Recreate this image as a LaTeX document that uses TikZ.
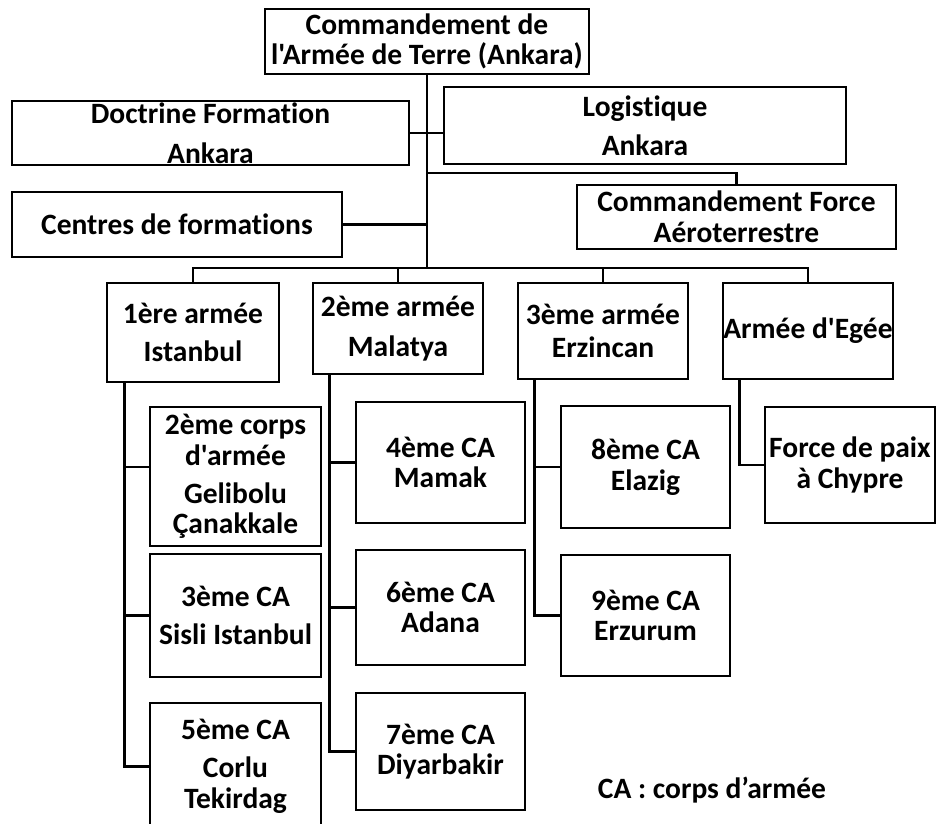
\documentclass[tikz,border=0pt]{standalone}
\usepackage{fontspec}
\newfontfamily\orgfont{Carlito}[Ligatures=NoCommon]
\usepackage{tikz}

\begin{document}
\begin{tikzpicture}[x=0.02cm,y=-0.02cm,
  box/.style={draw=black,line width=1.5pt,inner sep=0pt,align=center,
    font=\orgfont\bfseries\fontsize{16.8}{17.5}\selectfont},
  link/.style={draw=black,line width=1.5pt}]

\useasboundingbox (0,0) rectangle (936,824);
\clip (0,0) rectangle (936,824);

% top of the chart:
\node[box,minimum width=6.48cm,minimum height=1.30cm] (cat) at (427,41.5) {Commandement de\\l'Armée de Terre (Ankara)};
\node[box,minimum width=7.94cm,minimum height=1.28cm] (doc) at (210.5,133) {Doctrine Formation\\[5pt]Ankara};
\node[box,minimum width=8.04cm,minimum height=1.54cm] (log) at (645,125.5) {Logistique\\[4.5pt]Ankara};
\node[box,minimum width=6.38cm,minimum height=1.28cm] (cfa) at (736.5,217) {Commandement Force\\Aéroterrestre};
\node[box,minimum width=6.60cm,minimum height=1.30cm] (cen) at (177,224.5) {Centres de formations};

% armies:
\node[box,minimum width=3.44cm,minimum height=1.98cm] (a1) at (193,332.5) {1ère armée\\[4pt]Istanbul};
\node[box,minimum width=3.40cm,minimum height=1.82cm] (a2) at (398,328.5) {2ème armée\\[5pt]Malatya};
\node[box,minimum width=3.40cm,minimum height=1.92cm] (a3) at (603,331) {3ème armée\\[1pt]Erzincan};
\node[box,minimum width=3.40cm,minimum height=1.92cm] (a4) at (808,331) {Armée d'Egée};

% corps:
\node[box,minimum width=3.42cm,minimum height=2.78cm] (c2) at (235.5,476.5) {2ème corps\\d'armée\\[4pt]Gelibolu\\Çanakkale};
\node[box,minimum width=3.42cm,minimum height=2.46cm] (c3) at (235.5,615.5) {3ème CA\\[4pt]Sisli Istanbul};
\node[box,minimum width=3.42cm,minimum height=2.54cm] (c5) at (235.5,766.5) {5ème CA\\[4pt]Corlu\\Tekirdag};
\node[box,minimum width=3.38cm,minimum height=2.42cm] (c4) at (440.5,462.5) {4ème CA\\Mamak};
\node[box,minimum width=3.38cm,minimum height=2.30cm] (c6) at (440.5,607.5) {6ème CA\\Adana};
\node[box,minimum width=3.38cm,minimum height=2.34cm] (c7) at (440.5,751.5) {7ème CA\\Diyarbakir};
\node[box,minimum width=3.38cm,minimum height=2.44cm] (c8) at (645.5,467) {8ème CA\\Elazig};
\node[box,minimum width=3.38cm,minimum height=2.42cm] (c9) at (645.5,615.5) {9ème CA\\Erzurum};
\node[box,minimum width=3.40cm,minimum height=2.32cm] (fpc) at (850,465) {Force de paix\\à Chypre};
\node[font=\orgfont\bfseries\fontsize{16.8}{17.5}\selectfont] (leg) at (712,790) {CA : corps d’armée};

% links:
\coordinate (bus) at (427,268);
\coordinate (cfj) at (427,173);
\draw[link] (cat.south) -- (bus);
\draw[link] (doc.east) -- (doc.east -| log.west);
\draw[link] (cen.east) -- (cen.east -| bus);
\draw[link] (cfj) -| (cfa.north);
\draw[link] (a1.north) |- (bus) -| (a4.north);
\draw[link] (a2.north) -- (a2.north |- bus);
\draw[link] (a3.north) -- (a3.north |- bus);

\coordinate (a1l) at ([xshift=0.38cm]a1.south west);
\coordinate (a2l) at ([xshift=0.36cm]a2.south west);
\coordinate (a3l) at ([xshift=0.36cm]a3.south west);
\coordinate (a4l) at ([xshift=0.36cm]a4.south west);
\draw[link] (a1l) |- (c5.west);
\draw[link] ([yshift=0.19cm]c2.west) -| (a1l);
\draw[link] (c3.west) -- (c3.west -| a1l);
\draw[link] (a2l) |- (c7.west);
\draw[link] (c4.west) -- (c4.west -| a2l);
\draw[link] (c6.west) -- (c6.west -| a2l);
\draw[link] (a3l) |- (c9.west);
\draw[link] (c8.west) -- (c8.west -| a3l);
\draw[link] (a4l) |- (fpc.west);

\end{tikzpicture}
\end{document}
